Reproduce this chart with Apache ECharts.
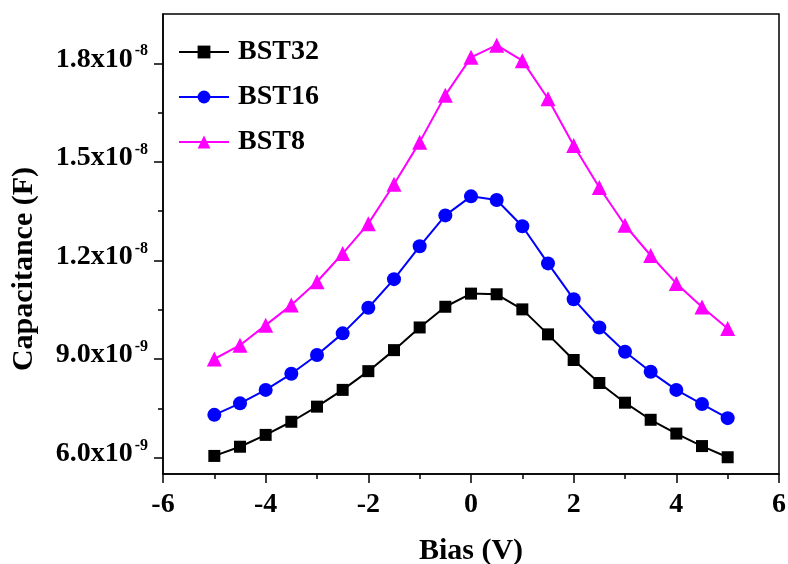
<!DOCTYPE html>
<html>
<head>
<meta charset="utf-8">
<script src="https://cdn.jsdelivr.net/npm/echarts@6/dist/echarts.min.js"></script>
<style>html,body{margin:0;padding:0;background:#fff}#c{width:788px;height:564px}</style>
</head>
<body>
<div id="c"></div>
<script>
const biasV = [-5,-4.5,-4,-3.5,-3,-2.5,-2,-1.5,-1,-0.5,0,0.5,1,1.5,2,2.5,3,3.5,4,4.5,5];
const bst32 = [6.05e-9,6.33e-9,6.69e-9,7.09e-9,7.55e-9,8.06e-9,8.63e-9,9.27e-9,9.96e-9,10.59e-9,10.99e-9,10.97e-9,10.51e-9,9.75e-9,8.97e-9,8.27e-9,7.67e-9,7.15e-9,6.73e-9,6.35e-9,6.01e-9];
const bst16 = [7.30e-9,7.65e-9,8.06e-9,8.55e-9,9.12e-9,9.78e-9,10.56e-9,11.43e-9,12.43e-9,13.37e-9,13.95e-9,13.84e-9,13.04e-9,11.91e-9,10.82e-9,9.96e-9,9.22e-9,8.61e-9,8.06e-9,7.63e-9,7.20e-9];
const bst8 = [9.00e-9,9.42e-9,10.03e-9,10.64e-9,11.35e-9,12.21e-9,13.12e-9,14.32e-9,15.60e-9,17.03e-9,18.18e-9,18.55e-9,18.08e-9,16.92e-9,15.50e-9,14.22e-9,13.07e-9,12.15e-9,11.30e-9,10.58e-9,9.93e-9];
const yMajorTicks = [6e-9, 9e-9, 1.2e-8, 1.5e-8, 1.8e-8];
const yMinorTicks = [7.5e-9, 1.05e-8, 1.35e-8, 1.65e-8];
const seriesNames = ['BST32','BST16','BST8'];

const FONT = '"Liberation Serif", "Times New Roman", serif';
function pairs(ys){ return biasV.map((x,i)=>[x, ys[i]]); }
function fmtSci(v){
  const e = Math.floor(Math.log10(v) + 1e-9);
  const m = v / Math.pow(10, e);
  return '{m|' + m.toFixed(1) + 'x10}{s|' + e + '}';
}
const chart = echarts.init(document.getElementById('c'), null, {renderer:'canvas'});
const yMin = 5.5e-9, yMax = 1.95e-8;
chart.setOption({
  animation:false,
  backgroundColor:'#fff',
  grid:{left:163, right:9, top:14, bottom:90, show:true, borderColor:'#000', borderWidth:1.5,
        containLabel:false, outerBoundsMode:'none'},
  legend:{
    orient:'vertical', left:173, top:33, itemGap:17, itemWidth:50, itemHeight:16,
    data:seriesNames,
    textStyle:{fontFamily:FONT, fontWeight:'bold', fontSize:28, color:'#000', padding:[0,0,0,4]}
  },
  xAxis:{
    type:'value', min:-6, max:6, interval:2,
    name:'Bias (V)', nameLocation:'middle', nameGap:62,
    nameTextStyle:{fontFamily:FONT, fontWeight:'bold', fontSize:30, color:'#000'},
    axisLine:{show:true, onZero:false, lineStyle:{color:'#000', width:1.5}},
    axisTick:{show:true, inside:false, length:9, lineStyle:{color:'#000', width:1.5}},
    minorTick:{show:true, splitNumber:2, length:5, lineStyle:{color:'#000', width:1.5}},
    splitLine:{show:false},
    axisLabel:{margin:17, fontFamily:FONT, fontWeight:'bold', fontSize:28, color:'#000'}
  },
  yAxis:[{
    type:'value', min:yMin, max:yMax, position:'left',
    name:'Capacitance (F)', nameLocation:'middle', nameGap:124, nameRotate:90,
    nameTextStyle:{fontFamily:FONT, fontWeight:'bold', fontSize:30, color:'#000', padding:[0,50,0,0]},
    axisLine:{show:true, onZero:false, lineStyle:{color:'#000', width:1.5}},
    axisTick:{show:true, inside:false, length:9, customValues:yMajorTicks, lineStyle:{color:'#000', width:1.5}},
    splitLine:{show:false},
    axisLabel:{
      margin:15, customValues:yMajorTicks, formatter:fmtSci, padding:[0,0,10,0],
      rich:{
        m:{fontFamily:FONT, fontWeight:'bold', fontSize:28, color:'#000', lineHeight:30, verticalAlign:'bottom'},
        s:{fontFamily:FONT, fontWeight:'bold', fontSize:16, color:'#000', lineHeight:16, verticalAlign:'top', padding:[0,0,24,2]}
      }
    }
  },{
    type:'value', min:yMin, max:yMax, position:'left',
    axisLine:{show:false, onZero:false},
    axisTick:{show:true, inside:false, length:5, customValues:yMinorTicks, lineStyle:{color:'#000', width:1.5}},
    axisLabel:{show:false, customValues:yMinorTicks},
    splitLine:{show:false}
  }],
  series:[
    {name:seriesNames[0], type:'line', data:pairs(bst32), symbol:'rect', symbolSize:12,
     itemStyle:{color:'#000000'}, lineStyle:{color:'#000000', width:2}},
    {name:seriesNames[1], type:'line', data:pairs(bst16), symbol:'circle', symbolSize:14,
     itemStyle:{color:'#0000ff'}, lineStyle:{color:'#0000ff', width:2}},
    {name:seriesNames[2], type:'line', data:pairs(bst8), symbol:'triangle', symbolSize:15,
     itemStyle:{color:'#ff00ff'}, lineStyle:{color:'#ff00ff', width:2}}
  ]
});
</script>
</body>
</html>
